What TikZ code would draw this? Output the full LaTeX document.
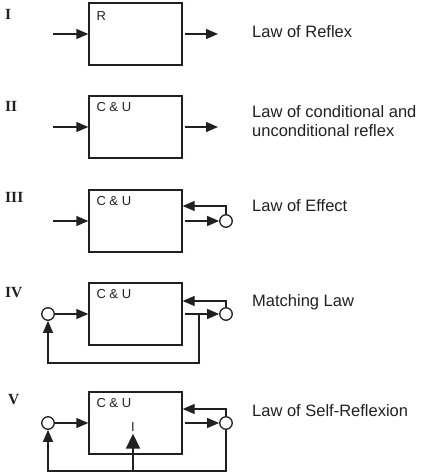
\documentclass[tikz,border=0pt]{standalone}
\usepackage{fontspec}
\setmainfont{Liberation Sans}
\newfontfamily\numfont{Liberation Serif}
\usetikzlibrary{arrows.meta}
\definecolor{ink}{RGB}{35,31,32}
\tikzset{
  law/.style={draw=ink, line width=1.4pt, minimum width=93pt, minimum height=62pt, inner sep=0pt},
  ring/.style={draw=ink, line width=1.3pt, circle, fill=white, minimum size=12.5pt, inner sep=0pt},
  flow/.style={draw=ink, line width=1.4pt, -{Triangle[length=12pt,width=10pt]}},
  bigflow/.style={draw=ink, line width=1.8pt, -{Triangle[length=15pt,width=14pt]}},
  numeral/.style={anchor=base west, inner sep=0pt, text=ink, font=\numfont\bfseries\fontsize{15.5}{15.5}\selectfont},
  boxtext/.style={anchor=north west, inner sep=0pt, text=ink, font=\fontsize{13}{13}\selectfont},
  lawname/.style={anchor=base west, inner sep=0pt, text=ink, align=left, font=\fontsize{16.5}{19}\selectfont}
}
\begin{document}
\begin{tikzpicture}[x=1pt,y=-1pt]
\useasboundingbox (0,0) rectangle (430,476);
% I
\node[numeral] (n1) at (5,20) {I};
\node[law] (box1) at (135.5,34) {};
\node[boxtext] (t1) at ([xshift=8pt,yshift=-9pt]box1.north west) {R};
\coordinate (in1) at (53,34);
\coordinate (out1) at (218,34);
\draw[flow] (in1) -- (box1);
\draw[flow, shorten <=2pt] (box1) -- (out1);
\node[lawname] (l1) at (252,38) {Law of Reflex};
% II
\node[numeral] (n2) at (5,111) {II};
\node[law] (box2) at (135.5,127) {};
\node[boxtext] (t2) at ([xshift=8pt,yshift=-7pt]box2.north west) {C \& U};
\coordinate (in2) at (53,127);
\coordinate (out2) at (218,127);
\draw[flow] (in2) -- (box2);
\draw[flow, shorten <=2pt] (box2) -- (out2);
\node[lawname] (l2) at (252,136) {Law of conditional and\\unconditional reflex};
% III
\node[numeral] (n3) at (5,202) {III};
\node[law] (box3) at (135.5,221) {};
\node[boxtext] (t3) at ([xshift=8pt,yshift=-7pt]box3.north west) {C \& U};
\coordinate (in3) at (53,221);
\node[ring] (c3) at (226,221) {};
\draw[flow] (in3) -- (box3);
\draw[flow, shorten <=2pt] (box3) -- (c3);
\draw[flow] (c3) |- ([yshift=15pt]box3.east);
\node[lawname] (l3) at (252,211) {Law of Effect};
% IV
\node[numeral] (n4) at (5,297) {IV};
\node[law] (box4) at (135.5,314) {};
\node[boxtext] (t4) at ([xshift=8pt,yshift=-7pt]box4.north west) {C \& U};
\node[ring] (c4l) at (48,314) {};
\node[ring] (c4r) at (226,314) {};
\coordinate (tap4) at (199,314);
\coordinate (bot4) at (199,363);
\draw[flow] (c4l) -- (box4);
\draw[flow, shorten <=2pt] (box4) -- (c4r);
\draw[flow] (c4r) |- ([yshift=13pt]box4.east);
\draw[flow] (tap4) -- (bot4) -| (c4l);
\node[lawname] (l4) at (252,306) {Matching Law};
% V
\node[numeral] (n5) at (8,404) {V};
\node[law] (box5) at (135.5,423) {};
\node[boxtext] (t5) at ([xshift=8pt,yshift=-7pt]box5.north west) {C \& U};
\node[boxtext, anchor=center, inner sep=1.5pt] (i5) at (133,427.5) {I};
\node[ring] (c5l) at (48,423) {};
\node[ring] (c5r) at (226,423) {};
\coordinate (bot5) at (133,471);
\draw[flow] (c5l) -- (box5);
\draw[flow, shorten <=2pt] (box5) -- (c5r);
\draw[flow] (c5r) |- ([yshift=14pt]box5.east);
\draw[flow] (c5r) |- (bot5) -| (c5l);
\draw[bigflow] (bot5) -- (i5);
\node[lawname] (l5) at (252,416) {Law of Self-Reflexion};
\end{tikzpicture}
\end{document}
